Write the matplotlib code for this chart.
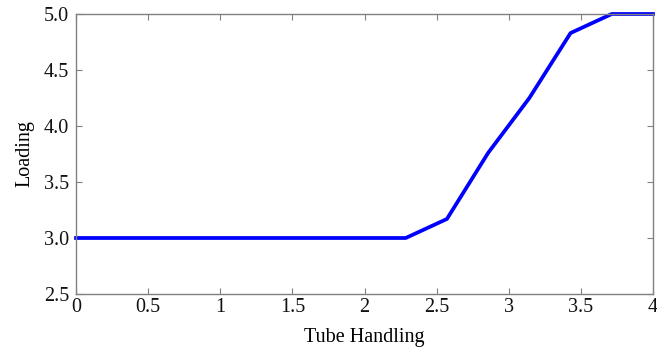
import numpy as np
import matplotlib
matplotlib.use("Agg")
import matplotlib.pyplot as plt

plt.rcParams['font.family'] = ['Liberation Serif', 'DejaVu Serif']

# Series: loading as a function of tube handling
tube_handling = np.linspace(0, 4, 15)
loading = [3.0, 3.0, 3.0, 3.0, 3.0, 3.0, 3.0, 3.0, 3.0,
           3.17, 3.76, 4.25, 4.83, 5.0, 5.0]

x_ticks = [0, 0.5, 1, 1.5, 2, 2.5, 3, 3.5, 4]
x_tick_labels = ['0', '0.5', '1', '1.5', '2', '2.5', '3', '3.5', '4']
y_ticks = [2.5, 3.0, 3.5, 4.0, 4.5, 5.0]
y_tick_labels = ['2.5', '3.0', '3.5', '4.0', '4.5', '5.0']

fig = plt.figure(figsize=(6.57, 3.49), dpi=100)
ax = fig.add_axes([0.1157, 0.1576, 0.8782, 0.8023])

ax.plot(tube_handling, loading, color='#0000ff', linewidth=2.7, clip_on=False)

ax.set_xlim(0, 4)
ax.set_ylim(2.5, 5.0)
ax.set_xticks(x_ticks)
ax.set_xticklabels(x_tick_labels)
ax.set_yticks(y_ticks)
ax.set_yticklabels(y_tick_labels)

for s in ax.spines.values():
    s.set_color('#808080')
    s.set_linewidth(1.0)
ax.tick_params(direction='in', top=True, right=True, length=4, width=0.8,
               color='#808080', labelsize=14.5, labelcolor='#111111')
ax.tick_params(axis='x', pad=3)
ax.tick_params(axis='y', pad=5)

ax.set_xlabel('Tube Handling', fontsize=14.5, labelpad=8)
ax.set_ylabel('Loading', fontsize=14.5, labelpad=7)

fig.savefig('out.png', dpi=100)
